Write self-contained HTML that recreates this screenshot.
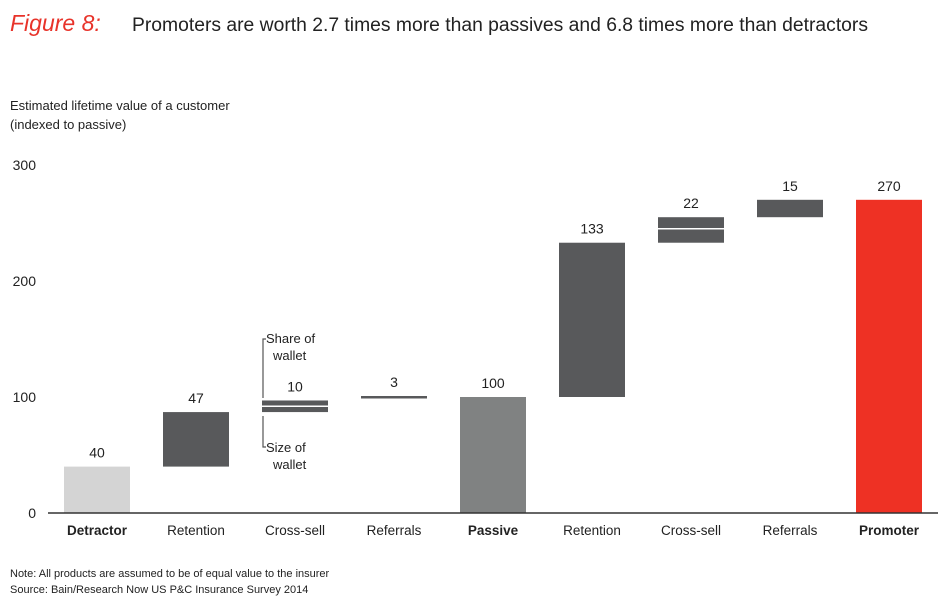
<!DOCTYPE html>
<html><head><meta charset="utf-8"><style>
body{margin:0;background:#fff;font-family:"Liberation Sans",sans-serif;}
svg text{font-family:"Liberation Sans",sans-serif;}
</style></head><body>
<svg width="950" height="607" viewBox="0 0 950 607">
<text x="10" y="31" font-family="Liberation Serif" font-style="italic" font-size="23" fill="#e8332a">Figure 8:</text>
<text x="132" y="31" font-size="19" fill="#222" textLength="736" lengthAdjust="spacingAndGlyphs">Promoters are worth 2.7 times more than passives and 6.8 times more than detractors</text>
<text x="10" y="110" font-size="13" fill="#222">Estimated lifetime value of a customer</text>
<text x="10" y="129" font-size="13" fill="#222">(indexed to passive)</text>
<g id="yaxis"></g>
<g id="bars"></g>
<line x1="48" y1="513" x2="938" y2="513" stroke="#333" stroke-width="1.5"/>
<g fill="#222" font-size="13">
<path d="M266,339 H263 V398 M263,416 V447 H266" stroke="#555" fill="none" stroke-width="1.2"/>
<text x="266" y="343">Share of</text><text x="273" y="360">wallet</text>
<text x="266" y="452">Size of</text><text x="273" y="469">wallet</text>
</g>
<text x="10" y="577" font-size="11" fill="#222">Note: All products are assumed to be of equal value to the insurer</text>
<text x="10" y="593" font-size="11" fill="#222">Source: Bain/Research Now US P&amp;C Insurance Survey 2014</text>
</svg>
<script>
const categories=["Detractor","Retention","Cross-sell","Referrals","Passive","Retention","Cross-sell","Referrals","Promoter"];
const barBase=[0,40,87,97,0,100,233,255,0];
const barTop=[40,87,97,100,100,233,255,270,270];
const splitAt=[null,null,92,null,null,null,245,null,null];
const labels=["40","47","10","3","100","133","22","15","270"];
const boldCats=[true,false,false,false,true,false,false,false,true];
const colors=["#d4d4d4","#58595b","#58595b","#58595b","#808282","#58595b","#58595b","#58595b","#ee3124"];
const yTicks=[0,100,200,300];
const NS="http://www.w3.org/2000/svg";
const y=v=>513-v*1.16;
const xc=i=>97+i*99;
const bw=66;
function mk(t,a,p){const e=document.createElementNS(NS,t);for(const k in a)e.setAttribute(k,a[k]);p.appendChild(e);return e;}
const ya=document.getElementById('yaxis');
yTicks.forEach(v=>{const t=mk('text',{x:36,y:y(v)+5,'text-anchor':'end','font-size':14,fill:'#222'},ya);


t.textContent=v;});
const g=document.getElementById('bars');
categories.forEach((c,i)=>{
 const x=xc(i)-bw/2;
 let top=y(barTop[i]),bot=y(barBase[i]);
 let h=bot-top;
 if(i===3){top=y(barTop[i])-1;h=2.5;}
 const r=mk('rect',{x:x,y:top,width:bw,height:h,fill:colors[i]},g);
 
 
 if(splitAt[i]!==null){const l=mk('line',{x1:x,x2:x+bw,y1:y(splitAt[i]),y2:y(splitAt[i]),stroke:'#fff','stroke-width':1.5},g);
 
 }
 const lt=mk('text',{x:xc(i),y:top-9,'text-anchor':'middle','font-size':14,fill:'#222'},g);
 
 
 lt.textContent=labels[i];
 const ct=mk('text',{x:xc(i),y:535,'text-anchor':'middle','font-size':13.5,fill:'#222','font-weight':boldCats[i]?'bold':'normal'},g);
 
 
 ct.textContent=c;
});
</script>
</body></html>
